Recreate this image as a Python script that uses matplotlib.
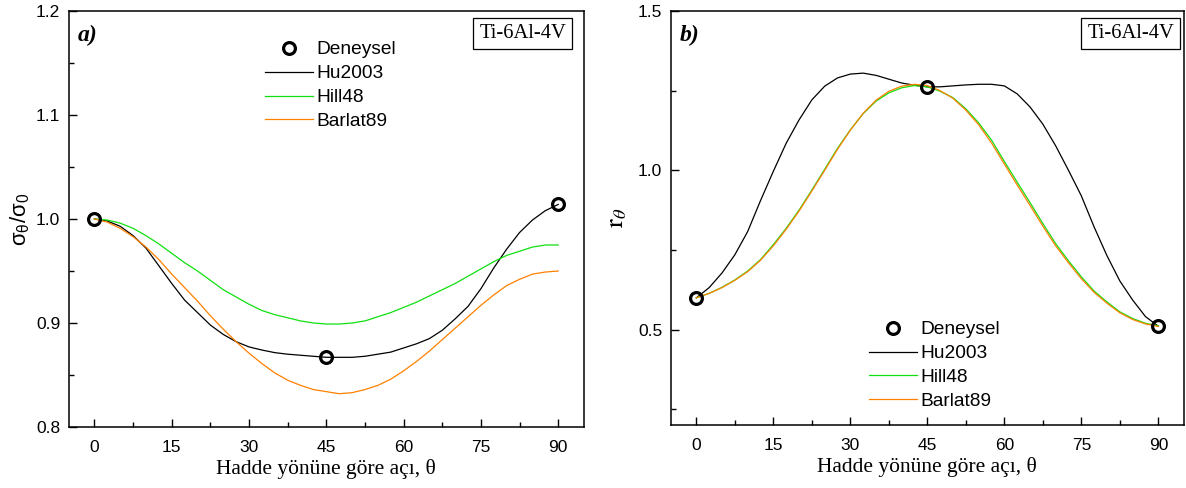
import matplotlib
matplotlib.use('Agg')
import matplotlib.pyplot as plt
from matplotlib.ticker import MultipleLocator

# Hadde yonune gore aci (derece)
theta = [0, 2.5, 5, 7.5, 10, 12.5, 15, 17.5, 20, 22.5, 25, 27.5, 30, 32.5, 35, 37.5,
         40, 42.5, 45, 47.5, 50, 52.5, 55, 57.5, 60, 62.5, 65, 67.5, 70, 72.5, 75,
         77.5, 80, 82.5, 85, 87.5, 90]
theta_exp = [0, 45, 90]

# a) normalize akma gerilmesi
sig_exp = [1.000, 0.867, 1.014]
sig_hu2003 = [1.000, 0.998, 0.993, 0.984, 0.972, 0.955, 0.938, 0.922, 0.910, 0.898,
              0.889, 0.882, 0.877, 0.874, 0.8715, 0.870, 0.869, 0.868, 0.867, 0.867,
              0.867, 0.868, 0.870, 0.872, 0.876, 0.880, 0.885, 0.893, 0.904, 0.916,
              0.933, 0.953, 0.971, 0.987, 0.999, 1.008, 1.014]
sig_hill48 = [1.000, 0.999, 0.996, 0.991, 0.984, 0.976, 0.967, 0.958, 0.950, 0.941,
              0.932, 0.925, 0.918, 0.912, 0.908, 0.905, 0.902, 0.900, 0.899, 0.899,
              0.900, 0.902, 0.906, 0.910, 0.915, 0.920, 0.926, 0.932, 0.938, 0.945,
              0.952, 0.959, 0.965, 0.969, 0.973, 0.975, 0.975]
sig_barlat89 = [1.000, 0.997, 0.991, 0.983, 0.973, 0.961, 0.947, 0.934, 0.921, 0.907,
                0.894, 0.882, 0.871, 0.861, 0.852, 0.845, 0.840, 0.836, 0.834, 0.832,
                0.833, 0.836, 0.840, 0.846, 0.854, 0.863, 0.873, 0.884, 0.895, 0.906,
                0.917, 0.927, 0.936, 0.942, 0.947, 0.949, 0.950]

# b) r-degerleri
r_exp = [0.600, 1.260, 0.511]
r_hu2003 = [0.600, 0.632, 0.678, 0.735, 0.808, 0.905, 0.997, 1.085, 1.158, 1.221,
            1.264, 1.290, 1.302, 1.305, 1.298, 1.286, 1.274, 1.267, 1.262, 1.262,
            1.265, 1.268, 1.270, 1.270, 1.265, 1.240, 1.199, 1.145, 1.077, 1.000,
            0.920, 0.822, 0.732, 0.653, 0.593, 0.541, 0.511]
r_hill48 = [0.600, 0.614, 0.633, 0.656, 0.684, 0.720, 0.767, 0.818, 0.875, 0.938,
            1.003, 1.069, 1.127, 1.178, 1.217, 1.243, 1.259, 1.266, 1.262, 1.248,
            1.228, 1.193, 1.149, 1.095, 1.028, 0.963, 0.899, 0.833, 0.770, 0.716,
            0.666, 0.621, 0.587, 0.556, 0.535, 0.520, 0.512]
r_barlat89 = [0.600, 0.614, 0.632, 0.655, 0.682, 0.718, 0.763, 0.815, 0.872, 0.935,
              1.000, 1.066, 1.126, 1.179, 1.220, 1.248, 1.264, 1.270, 1.266, 1.250,
              1.226, 1.189, 1.143, 1.086, 1.020, 0.954, 0.890, 0.825, 0.763, 0.710,
              0.660, 0.617, 0.583, 0.553, 0.532, 0.518, 0.510]

GREEN = '#10e010'
ORANGE = '#ff8000'
sans = ['Liberation Sans', 'DejaVu Sans']
serif = ['Liberation Serif', 'DejaVu Serif']

fig = plt.figure(figsize=(11.86, 4.88), dpi=100)
ax1 = fig.add_axes([0.0579, 0.125, 0.4345, 0.8525])
ax2 = fig.add_axes([0.5655, 0.1285, 0.4328, 0.849])


def style_axes(ax, ylim, ymaj, ymin):
    ax.set_xlim(-5, 95)
    ax.set_ylim(*ylim)
    ax.xaxis.set_major_locator(MultipleLocator(15))
    ax.xaxis.set_minor_locator(MultipleLocator(7.5))
    ax.yaxis.set_major_locator(MultipleLocator(ymaj))
    ax.yaxis.set_minor_locator(MultipleLocator(ymin))
    ax.tick_params(which='both', direction='in', top=False, right=False, width=1.0)
    ax.tick_params(which='major', length=6, labelsize=12.5)
    ax.tick_params(axis='x', which='major', pad=9)
    ax.tick_params(axis='y', which='major', pad=6)
    ax.tick_params(which='minor', length=3.5)
    for lab in ax.get_xticklabels() + ax.get_yticklabels():
        lab.set_family(sans)
    for s in ax.spines.values():
        s.set_linewidth(1.1)
    ax.set_xlabel('Hadde yönüne göre açı, θ', family=serif, fontsize=15.5, labelpad=3)


def draw(ax, exp, hu, hill, barlat):
    ax.plot(theta, hu, color='black', lw=0.9, label='Hu2003')
    ax.plot(theta, hill, color=GREEN, lw=0.9, label='Hill48')
    ax.plot(theta, barlat, color=ORANGE, lw=0.9, label='Barlat89')
    ax.plot(theta_exp, exp, 'o', ms=8.5, mfc='none', mec='black', mew=2.3,
            label='Deneysel', zorder=5)


def legend(ax, x, y):
    h, l = ax.get_legend_handles_labels()
    order = [3, 0, 1, 2]
    ax.legend([h[i] for i in order], [l[i] for i in order], loc='upper left',
              bbox_to_anchor=(x, y), frameon=False, borderaxespad=0, borderpad=0,
              handlelength=2.5, handletextpad=0.2, labelspacing=0.34,
              prop={'family': sans, 'size': 13.8})


def tag(ax, letter, bx):
    ax.text(0.018, 0.94, letter, transform=ax.transAxes, family=serif,
            fontsize=17, fontweight='bold', style='italic', va='center', ha='left')
    ax.text(bx, 0.968, 'Ti-6Al-4V', transform=ax.transAxes, family=serif,
            fontsize=14.8, ha='right', va='top',
            bbox=dict(boxstyle='square,pad=0.3', fc='white', ec='black', lw=0.9))


# a)
draw(ax1, sig_exp, sig_hu2003, sig_hill48, sig_barlat89)
style_axes(ax1, (0.8, 1.2), 0.1, 0.05)
ax1.set_ylabel(r'$\mathregular{\sigma_\theta/\sigma_0}$', family=sans, fontsize=16,
               labelpad=3)
legend(ax1, 0.381, 0.928)
tag(ax1, 'a)', 0.965)

# b)
draw(ax2, r_exp, r_hu2003, r_hill48, r_barlat89)
style_axes(ax2, (0.2, 1.5), 0.5, 0.25)
ax2.set_ylabel(r'$\mathrm{r}_\theta$', fontsize=19, math_fontfamily='stix', labelpad=6)
legend(ax2, 0.386, 0.252)
tag(ax2, 'b)', 0.981)

fig.savefig('out.png', dpi=100)
